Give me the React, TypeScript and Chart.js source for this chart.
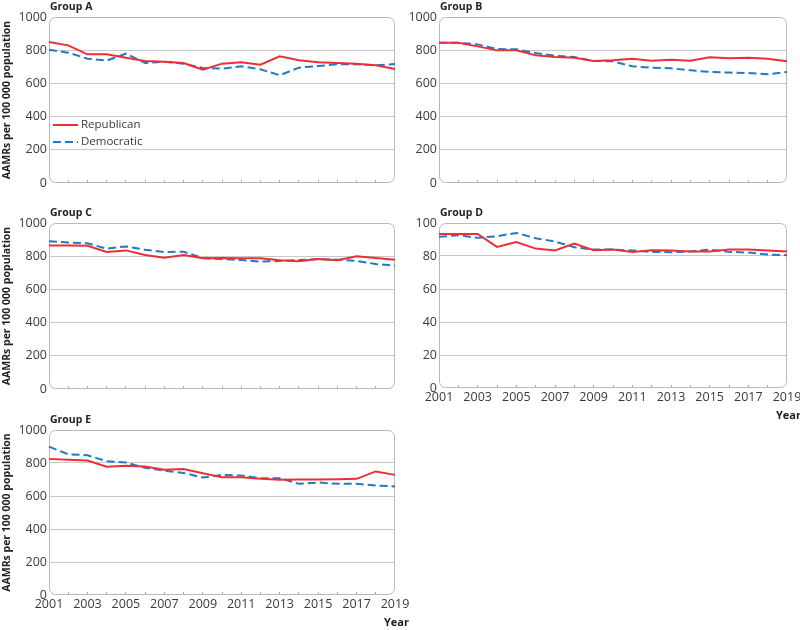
import React, { useEffect, useRef } from 'react';
import { Chart, registerables } from 'chart.js';

Chart.register(...registerables);

// ---------- data ----------
const years = ['2001','2002','2003','2004','2005','2006','2007','2008','2009','2010','2011','2012','2013','2014','2015','2016','2017','2018','2019'];

const groupARepublican = [849, 829, 775, 775, 755, 735, 731, 723, 683, 719, 727, 713, 763, 739, 727, 723, 719, 709, 687];
const groupADemocratic = [803, 785, 749, 737, 779, 723, 731, 719, 693, 689, 703, 685, 649, 695, 705, 715, 715, 709, 717];

const groupBRepublican = [845, 845, 823, 799, 799, 769, 759, 755, 735, 739, 749, 737, 743, 737, 757, 751, 755, 749, 733];
const groupBDemocratic = [845, 845, 835, 807, 805, 783, 767, 759, 735, 733, 703, 695, 691, 679, 669, 665, 663, 655, 669];

const groupCRepublican = [865, 865, 863, 825, 835, 807, 791, 807, 787, 789, 787, 787, 775, 769, 783, 775, 799, 789, 779];
const groupCDemocratic = [890, 882, 878, 845, 859, 839, 825, 827, 789, 783, 777, 767, 771, 777, 783, 779, 771, 753, 743];

const groupDRepublican = [93.4, 93.4, 93.4, 85.5, 88.4, 84.5, 83.3, 87.6, 83.5, 83.9, 82.5, 83.5, 83.3, 82.7, 82.7, 83.9, 83.9, 83.3, 82.7];
const groupDDemocratic = [91.6, 92.6, 91.0, 92.0, 94.0, 90.8, 88.8, 85.3, 83.9, 83.9, 83.3, 82.5, 82.3, 82.7, 83.9, 82.5, 82.1, 80.9, 80.5];

const groupERepublican = [825, 819, 815, 777, 783, 779, 759, 763, 738, 714, 714, 704, 698, 700, 700, 702, 704, 749, 728];
const groupEDemocratic = [899, 853, 847, 811, 803, 771, 753, 740, 712, 728, 724, 708, 708, 674, 682, 674, 674, 664, 658];

const yTickStepMain = 200;
const yMaxMain = 1000;
const yTickStepD = 20;
const yMaxD = 100;

const seriesNames = ['Republican', 'Democratic'];
const yAxisTitle = 'AAMRs per 100 000 population';
const xAxisTitle = 'Year';

// ---------- style ----------
const FONT = "'Open Sans', 'DejaVu Sans', sans-serif";
const RED = '#ec2f37';
const BLUE = '#2279c6';
const GRID = '#c9c9c9';
const FRAME = '#b9b9b9';
const TICK_TEXT = '#3a3a3a';
const TITLE_TEXT = '#222222';

type Panel = {
  label: string;
  rep: number[];
  dem: number[];
  yMax: number;
  yStep: number;
  left: number;
  top: number;
  width: number;
  height: number;
  area: { l: number; r: number; t: number; b: number };
  showYTitle: boolean;
  showXLabels: boolean;
  showYear: boolean;
  showLegend: boolean;
};

const panels: Panel[] = [
  { label: 'Group A', rep: groupARepublican, dem: groupADemocratic, yMax: yMaxMain, yStep: yTickStepMain,
    left: 0, top: 0, width: 420, height: 200, area: { l: 49, r: 395, t: 17, b: 183 },
    showYTitle: true, showXLabels: false, showYear: false, showLegend: true },
  { label: 'Group B', rep: groupBRepublican, dem: groupBDemocratic, yMax: yMaxMain, yStep: yTickStepMain,
    left: 400, top: 0, width: 400, height: 200, area: { l: 39, r: 387, t: 17, b: 183 },
    showYTitle: false, showXLabels: false, showYear: false, showLegend: false },
  { label: 'Group C', rep: groupCRepublican, dem: groupCDemocratic, yMax: yMaxMain, yStep: yTickStepMain,
    left: 0, top: 200, width: 420, height: 200, area: { l: 49, r: 395, t: 23, b: 189 },
    showYTitle: true, showXLabels: false, showYear: false, showLegend: false },
  { label: 'Group D', rep: groupDRepublican, dem: groupDDemocratic, yMax: yMaxD, yStep: yTickStepD,
    left: 400, top: 200, width: 400, height: 230, area: { l: 39, r: 387, t: 23, b: 188 },
    showYTitle: false, showXLabels: true, showYear: true, showLegend: false },
  { label: 'Group E', rep: groupERepublican, dem: groupEDemocratic, yMax: yMaxMain, yStep: yTickStepMain,
    left: 0, top: 410, width: 420, height: 220, area: { l: 49, r: 395, t: 20, b: 185 },
    showYTitle: true, showXLabels: true, showYear: true, showLegend: false },
];

const makeDecor = (p: Panel) => ({
  id: 'decor',
  beforeDatasetsDraw(chart: any) {
    const { ctx, chartArea: a } = chart;
    ctx.save();
    ctx.strokeStyle = FRAME;
    ctx.lineWidth = 1;
    ctx.beginPath();
    ctx.roundRect(a.left + 0.5, a.top + 0.5, a.right - a.left - 1, a.bottom - a.top - 1, 6);
    ctx.stroke();
    ctx.restore();
  },
  afterDraw(chart: any) {
    const { ctx, chartArea: a } = chart;
    ctx.save();
    ctx.fillStyle = TITLE_TEXT;
    ctx.textBaseline = 'middle';
    ctx.textAlign = 'left';
    ctx.font = `bold 10.5px ${FONT}`;
    ctx.fillText(p.label, a.left + 1, a.top - 10);
    if (p.showYear) {
      ctx.font = `bold 11px ${FONT}`;
      ctx.fillText(xAxisTitle, a.right - 11, a.bottom + 28);
    }
    if (p.showLegend) {
      const ds = chart.data.datasets;
      ds.forEach((d: any, i: number) => {
        const y = a.top + 108 + i * 17;
        ctx.strokeStyle = d.borderColor;
        ctx.lineWidth = 2;
        ctx.setLineDash(d.borderDash || []);
        ctx.beginPath();
        ctx.moveTo(a.left + 4, y);
        ctx.lineTo(a.left + 29, y);
        ctx.stroke();
        ctx.setLineDash([]);
        ctx.fillStyle = TICK_TEXT;
        ctx.font = `11.5px ${FONT}`;
        ctx.fillText(d.label, a.left + 32, y);
      });
    }
    ctx.restore();
  },
});

function PanelChart({ p }: { p: Panel }) {
  const ref = useRef<HTMLCanvasElement>(null);
  useEffect(() => {
    if (!ref.current) return;
    const tickFont = { family: FONT, size: 12.5 };
    const chart = new Chart(ref.current, {
      type: 'line',
      data: {
        labels: years,
        datasets: [
          { label: seriesNames[0], data: p.rep, borderColor: RED, backgroundColor: RED, borderWidth: 2,
            pointRadius: 0, tension: 0, fill: false },
          { label: seriesNames[1], data: p.dem, borderColor: BLUE, backgroundColor: BLUE, borderWidth: 2,
            borderDash: [8, 4], pointRadius: 0, tension: 0, fill: false },
        ],
      },
      options: {
        responsive: false,
        animation: false,
        devicePixelRatio: 1,
        events: [],
        layout: { padding: { left: 0, top: p.area.t, right: p.width - p.area.r, bottom: 0 } },
        plugins: { legend: { display: false }, title: { display: false }, tooltip: { enabled: false } },
        scales: {
          x: {
            type: 'category',
            offset: false,
            border: { display: false },
            grid: {
              drawOnChartArea: false,
              drawTicks: true,
              tickLength: -3,
              lineWidth: 1,
              tickColor: (ctx: any) =>
                ctx.index === 0 || ctx.index === years.length - 1 ? 'rgba(0,0,0,0)' : '#a8a8a8',
            },
            ticks: {
              display: p.showXLabels,
              autoSkip: false,
              maxRotation: 0,
              minRotation: 0,
              padding: 5,
              color: TICK_TEXT,
              font: tickFont,
              callback: (_v: any, i: number) => (Number(years[i]) % 2 === 1 ? years[i] : ''),
            },
            afterFit: (s: any) => {
              s.height = p.height - p.area.b;
              s.paddingLeft = 0;
              s.paddingRight = 0;
            },
          },
          y: {
            min: 0,
            max: p.yMax,
            border: { display: false },
            grid: {
              drawTicks: false,
              lineWidth: 1,
              color: (ctx: any) =>
                ctx.tick && (ctx.tick.value === 0 || ctx.tick.value === p.yMax) ? 'rgba(0,0,0,0)' : GRID,
            },
            ticks: {
              stepSize: p.yStep,
              padding: 2,
              color: TICK_TEXT,
              font: tickFont,
              callback: (v: any) => String(v),
            },
            title: {
              display: p.showYTitle,
              text: yAxisTitle,
              color: TITLE_TEXT,
              font: { family: FONT, size: 10.5, weight: 'bold' },
              padding: { top: 1, bottom: 0 },
            },
            afterFit: (s: any) => {
              s.width = p.area.l;
            },
          },
        },
      } as any,
      plugins: [makeDecor(p)],
    });
    return () => chart.destroy();
  }, [p]);
  return (
    <canvas
      ref={ref}
      width={p.width}
      height={p.height}
      style={{ position: 'absolute', left: p.left, top: p.top, width: p.width, height: p.height, display: 'block' }}
    />
  );
}

export default function App() {
  return (
    <div style={{ position: 'absolute', left: 0, top: 0, width: 800, height: 630, background: '#ffffff', overflow: 'hidden' }}>
      {panels.map((p) => (
        <PanelChart key={p.label} p={p} />
      ))}
    </div>
  );
}
